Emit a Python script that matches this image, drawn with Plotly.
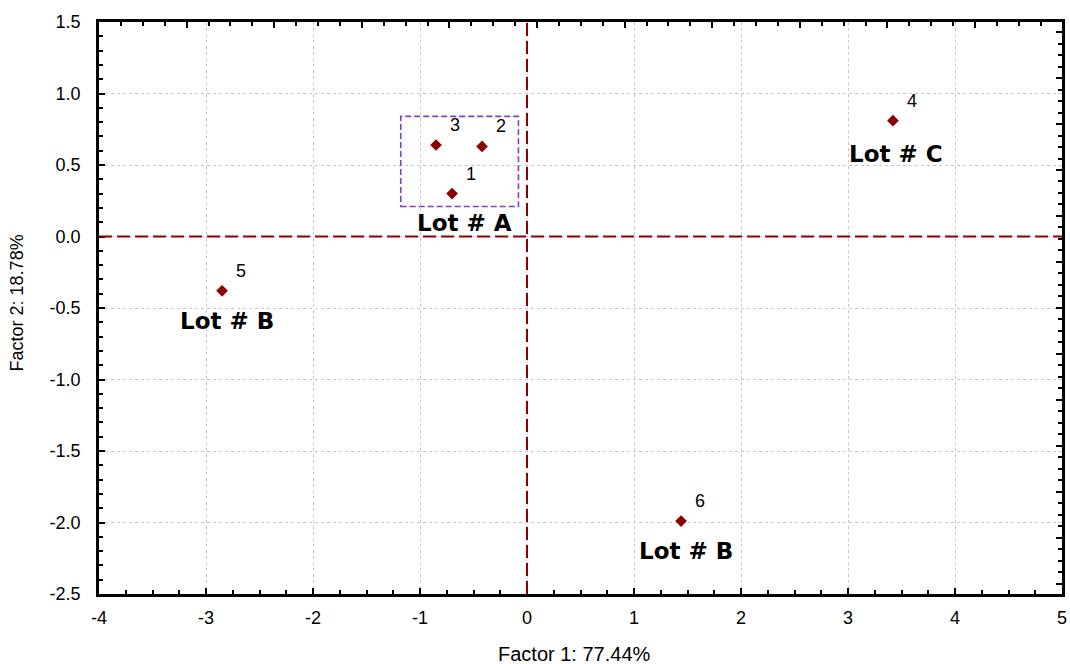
import plotly.graph_objects as go

# Factor scores of the six samples
sample_ids = ["1", "2", "3", "4", "5", "6"]
factor1 = [-0.70, -0.42, -0.85, 3.42, -2.85, 1.44]
factor2 = [0.30, 0.63, 0.64, 0.81, -0.38, -1.99]

# Lot groupings: label text and the sample each label sits under
lot_labels = ["Lot # A", "Lot # C", "Lot # B", "Lot # B"]
lot_anchor = ["1", "4", "5", "6"]

# Bounding box around the Lot A cluster (factor-score units)
lot_a_box = {"x0": -1.18, "x1": -0.08, "y0": 0.21, "y1": 0.84}

x_ticks = [-4, -3, -2, -1, 0, 1, 2, 3, 4, 5]
y_ticks = [1.5, 1.0, 0.5, 0.0, -0.5, -1.0, -1.5, -2.0, -2.5]

x_title = "Factor 1: 77.44%"
y_title = "Factor 2: 18.78%"

DARK_RED = "#8B0000"
SANS = "Liberation Sans, Arial, sans-serif"
TICK_FONT = dict(family=SANS, size=18, color="#000")

fig = go.Figure()

fig.add_trace(go.Scatter(
    x=factor1, y=factor2, mode="markers",
    marker=dict(symbol="diamond", size=9, color=DARK_RED),
    hoverinfo="skip", showlegend=False,
))
# placeholder trace so the mirrored frame axes are drawn
fig.add_trace(go.Scatter(x=[None], y=[None], xaxis="x2", yaxis="y2",
                         showlegend=False, hoverinfo="skip"))

# sample numbers next to each point
for sid, xv, yv in zip(sample_ids, factor1, factor2):
    fig.add_annotation(x=xv, y=yv, text=sid, showarrow=False,
                       xshift=19, yshift=20,
                       font=dict(family=SANS, size=18, color="#000"))

# lot labels below their anchor samples
lot_shift = {"Lot # A": (12, -29), "Lot # C": (3, -33), "Lot # B": (5, -30)}
for lab, sid in zip(lot_labels, lot_anchor):
    i = sample_ids.index(sid)
    dx, dy = lot_shift[lab]
    fig.add_annotation(x=factor1[i], y=factor2[i], text=lab, showarrow=False,
                       xshift=dx, yshift=dy,
                       font=dict(family="DejaVu Sans, Verdana, sans-serif", size=23,
                                 color="#000", weight="bold"))

# axis titles
fig.add_annotation(text=x_title, xref="paper", yref="paper", x=0.494, y=0,
                   yshift=-60, showarrow=False, xanchor="center", yanchor="middle",
                   font=dict(family=SANS, size=20, color="#000"))
fig.add_annotation(text=y_title, xref="paper", yref="paper", x=0, y=0.508,
                   xshift=-82, showarrow=False, textangle=-90,
                   xanchor="center", yanchor="middle",
                   font=dict(family=SANS, size=18, color="#000"))

# origin reference lines
fig.add_shape(type="line", x0=0, x1=0, y0=-2.5, y1=1.5, xref="x", yref="y",
              line=dict(color=DARK_RED, width=2, dash="13px,5px"), layer="above")
fig.add_shape(type="line", x0=-4, x1=5, y0=0, y1=0, xref="x", yref="y",
              line=dict(color=DARK_RED, width=2, dash="13px,5px"), layer="above")

# Lot A cluster box
fig.add_shape(type="rect", xref="x", yref="y", **lot_a_box,
              line=dict(color="#8040C0", width=1.6, dash="6px,3px"))

frame = dict(showline=True, linecolor="#000", linewidth=2.5, zeroline=False,
             automargin=False, ticks="inside", ticklen=6, tickwidth=2, tickcolor="#000")

fig.update_layout(
    width=1070, height=664,
    margin=dict(l=99, r=8, t=22, b=70),
    plot_bgcolor="#fff", paper_bgcolor="#fff",
    xaxis=dict(
        range=[-4, 5], tickvals=x_ticks, ticktext=[str(v) for v in x_ticks],
        showgrid=True, gridcolor="#c8c8c8", griddash="dot", gridwidth=1,
        minor=dict(dtick=0.25, ticks="inside", ticklen=4, tickwidth=2,
                   tickcolor="#000", showgrid=False),
        tickfont=TICK_FONT, ticklabelstandoff=6, **frame,
    ),
    yaxis=dict(
        range=[-2.5, 1.5], tickvals=y_ticks, ticktext=[f"{v:.1f}" for v in y_ticks],
        showgrid=True, gridcolor="#c8c8c8", griddash="dot", gridwidth=1,
        minor=dict(dtick=0.1, ticks="inside", ticklen=4, tickwidth=2,
                   tickcolor="#000", showgrid=False),
        tickfont=TICK_FONT, ticklabelstandoff=12, **frame,
    ),
    xaxis2=dict(
        overlaying="x", side="top", anchor="y", range=[0, 43.97],
        showgrid=False, dtick=4, tick0=0, showticklabels=False,
        minor=dict(dtick=1, ticks="inside", ticklen=4, tickwidth=2, tickcolor="#000",
                   showgrid=False),
        **frame,
    ),
    yaxis2=dict(
        overlaying="y", side="right", anchor="x", range=[-4.9, 44.88],
        showgrid=False, dtick=4, tick0=0, showticklabels=False,
        minor=dict(dtick=1, ticks="inside", ticklen=4, tickwidth=2, tickcolor="#000",
                   showgrid=False),
        **frame,
    ),
)

fig.write_html("out.html")
